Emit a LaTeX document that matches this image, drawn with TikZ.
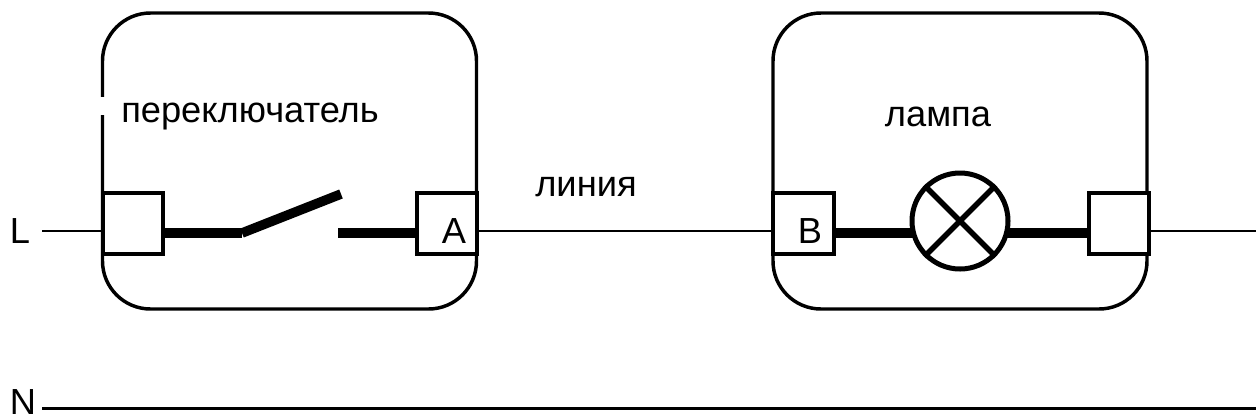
\documentclass[tikz,border=0pt]{standalone}
\usepackage{fontspec}
\setmainfont{Liberation Sans}

\tikzset{
	housing/.style={draw, rounded corners=36pt, line width=2.6pt, minimum width=280.5pt, minimum height=222pt},
	terminal/.style={draw, fill=white, line width=3pt, minimum width=45.5pt, minimum height=45.75pt, inner sep=0pt},
	thinwire/.style={line width=1.7pt},
	neutralwire/.style={line width=2.25pt},
	thickwire/.style={line width=7.2pt},
	lampline/.style={line width=4.2pt},
	caption/.style={inner sep=0pt, font=\fontsize{27.2}{32}\selectfont},
}

\begin{document}
\begin{tikzpicture}[x=0.75pt, y=-0.75pt]

	\useasboundingbox (0,0) rectangle (1256,419);

	%wire heights
	\def\thinY{231}
	\def\thickY{233}
	\def\neutralY{408}

	%free ends of the wires
	\coordinate (lineIn) at (42,\thinY);
	\coordinate (lineOut) at (1256,\thinY);
	\coordinate (neutralIn) at (42,\neutralY);
	\coordinate (neutralOut) at (1256,\neutralY);
	\coordinate (thickLevel) at (0,\thickY);

	%housings
	\node[housing] (switchBox) at (289.5,161) {};
	\node[housing] (lampBox) at (960,161) {};
	%gap in the switch housing
	\draw[white, line width=4pt] (102,97) -- (102,115);

	%terminals
	\node[terminal] (termIn) at (133,223.5) {};
	\node[terminal] (termA) at (447,223.5) {};
	\node[terminal] (termB) at (803.5,223.5) {};
	\node[terminal] (termOut) at (1119,223.5) {};

	%switch contacts
	\coordinate (hinge) at (242,\thickY);
	\coordinate (bladeEnd) at (341,194);
	\coordinate (contact) at (338,\thickY);

	%thin wires
	\draw[thinwire] (lineIn) -- (lineIn -| termIn.west);
	\draw[thinwire] (lineOut -| termA.east) -- (lineOut -| termB.west);
	\draw[thinwire] (lineOut -| termOut.east) -- (lineOut);
	\draw[neutralwire] (neutralIn) -- (neutralOut);

	%thick wires
	\draw[thickwire] (thickLevel -| termIn.east) -- (hinge);
	\draw[thickwire] (hinge) -- (bladeEnd);
	\draw[thickwire] (contact) -- (thickLevel -| termA.west);

	%lamp, the wires run under it
	\coordinate (lampCentre) at (960,221);
	\draw[thickwire] (thickLevel -| termB.east) -- (thickLevel -| lampCentre);
	\draw[thickwire] (thickLevel -| lampCentre) -- (thickLevel -| termOut.west);
	\node[draw, circle, fill=white, line width=3.75pt, minimum size=72pt, inner sep=0pt] (lamp) at (lampCentre) {};
	\draw[lampline] (lamp.north west) -- (lamp.south east);
	\draw[lampline] (lamp.north east) -- (lamp.south west);

	%labels
	\node[caption] (labelL) at (20,231) {L};
	\node[caption] (labelN) at (23,402) {N};
	\node[caption] (labelA) at (454,231) {A};
	\node[caption] (labelB) at (810,231) {B};
	\node[caption, anchor=base] (labelSwitch) at (250,122) {переключатель};
	\node[caption, anchor=base] (labelLamp) at (938,126) {лампа};
	\node[caption, anchor=base] (labelLine) at (586,196) {линия};

\end{tikzpicture}
\end{document}
